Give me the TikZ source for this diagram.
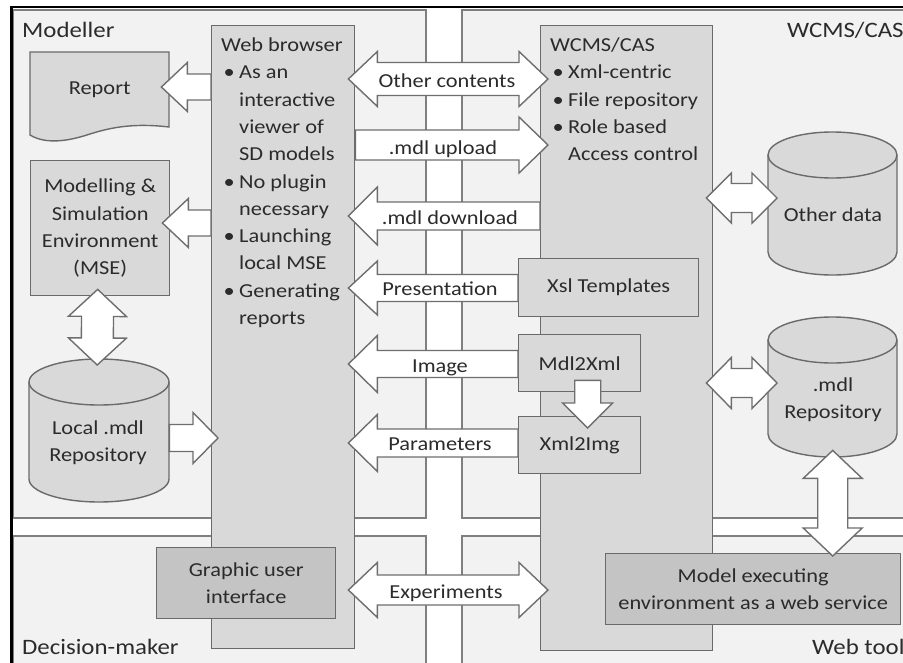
\documentclass[tikz,border=0pt]{standalone}
\usepackage{fontspec}
\setmainfont{Carlito}[FakeStretch=1.13]
\usetikzlibrary{calc}
\definecolor{panelfill}{HTML}{F2F2F2}
\definecolor{panelline}{HTML}{7F7F7F}
\definecolor{boxfill}{HTML}{D9D9D9}
\definecolor{darkfill}{HTML}{C4C4C4}
\definecolor{boxline}{HTML}{6A6A6A}
\definecolor{arrowline}{HTML}{6E6E6E}
\definecolor{txt}{HTML}{2B2B2B}
\newcommand\bul{\makebox[18pt][l]{\hspace{2.5pt}\textbullet}}
\newcommand\ind{\hspace*{18pt}}
% single block arrow: tail, tip, shaft half, head half, head length
\newcommand\sarrow[5]{%
  \coordinate (hb) at ($(#2)!#5!(#1)$);
  \draw[blockarrow] ($(#1)!#3!90:(#2)$) -- ($(hb)!#3!-90:(#1)$) -- ($(hb)!#4!-90:(#1)$) -- (#2)
    -- ($(hb)!#4!90:(#1)$) -- ($(hb)!#3!90:(#1)$) -- ($(#1)!#3!-90:(#2)$) -- cycle;}
% double block arrow: tip A, tip B, shaft half, head half, head length
\newcommand\darrow[5]{%
  \coordinate (ha) at ($(#1)!#5!(#2)$);
  \coordinate (hz) at ($(#2)!#5!(#1)$);
  \draw[blockarrow] (#1) -- ($(ha)!#4!90:(#2)$) -- ($(ha)!#3!90:(#2)$) -- ($(hz)!#3!-90:(#1)$)
    -- ($(hz)!#4!-90:(#1)$) -- (#2) -- ($(hz)!#4!90:(#1)$) -- ($(hz)!#3!90:(#1)$)
    -- ($(ha)!#3!-90:(#2)$) -- ($(ha)!#4!-90:(#2)$) -- cycle;}
% cylinder body: L T R B rx ry
\newcommand\cylbody[6]{%
  \filldraw[cylstyle] (#1,#2+#6) -- (#1,#4-#6) arc[start angle=180, end angle=360, x radius=#5pt, y radius=#6pt]
    -- (#3,#2+#6) arc[start angle=0, end angle=180, x radius=#5pt, y radius=#6pt] -- cycle;
  \draw[cylstyle, fill=none] (#1,#2+#6) arc[start angle=180, end angle=360, x radius=#5pt, y radius=#6pt];}
\begin{document}
\begin{tikzpicture}[x=1pt,y=-1pt,
  every node/.style={text=txt, font=\fontsize{19.8}{27.3}\selectfont},
  panel/.style={draw=panelline, fill=panelfill, line width=1.4pt},
  boxnode/.style={draw=boxline, fill=boxfill, line width=1.4pt, rectangle, inner sep=0pt, anchor=north west, align=center},
  darkbox/.style={boxnode, fill=darkfill},
  cylstyle/.style={draw=boxline, fill=boxfill, line width=1.4pt},
  blockarrow/.style={draw=arrowline, fill=white, line width=1.4pt, line join=miter},
  plain/.style={inner sep=0pt, align=center},
  lbl/.style={inner sep=0pt, anchor=base west, font=\fontsize{22}{26}\selectfont},
  albl/.style={inner sep=0pt, anchor=base},
]
\useasboundingbox (0,0) rectangle (903,662);
\fill[white] (0,0) rectangle (903,662);
\clip (0,0) rectangle (903,662);
% panels
\draw[panel] (13,10) rectangle (426,518);
\draw[panel] (13,536) rectangle (426,690);
\draw[panel] (462,10) rectangle (920,518);
\draw[panel] (462,536) rectangle (920,690);
\draw[line width=2.5pt] (11.5,690) -- (11.5,7) -- (920,7);
\node[lbl] (modeller) at (22,37.3) {Modeller};
\node[lbl] (wcmslbl) at (787,37.3) {WCMS/CAS};
\node[lbl] (decision) at (22,654) {Decision-maker};
\node[lbl] (webtool) at (812,654) {Web tool};
% main columns
\node[boxnode, minimum width=143pt, minimum height=623pt] (web) at (211,25) {};
\node[boxnode, minimum width=172pt, minimum height=625pt] (wcms) at (540,25) {};
\node[inner sep=0pt, anchor=base west] (webtext) at (221,51.5) {\begin{tabular}[t]{@{}l@{}}Web browser\\
 \bul As an\\ \ind interactive\\ \ind viewer of\\ \ind SD models\\
 \bul No plugin\\ \ind necessary\\ \bul Launching\\ \ind local MSE\\
 \bul Generating\\ \ind reports\end{tabular}};
\node[inner sep=0pt, anchor=base west] (wcmstext) at (550,51.5) {\begin{tabular}[t]{@{}l@{}}WCMS/CAS\\
 \bul Xml-centric\\ \bul File repository\\ \bul Role based\\ \ind Access control\end{tabular}};
% modeller side
\draw[cylstyle] (30,52) -- (169,52) -- (169,127) .. controls (135,123) and (112,127) .. (90,134)
  .. controls (66,142) and (45,144) .. (30,135) -- cycle;
\node[plain, minimum width=139pt, minimum height=75pt, anchor=north west] (report) at (30,52) {Report};
\node[boxnode, minimum width=139pt, minimum height=135pt] (mse) at (30,160) {Modelling \&\\Simulation\\Environment\\(MSE)};
\cylbody{29}{359}{169}{502}{70}{23}
\node[plain, minimum width=140pt, minimum height=143pt, anchor=north west] (localrepo) at (29,359) {};
\node[plain] (localrepotext) at (98,443) {Local .mdl\\Repository};
% WCMS side
\cylbody{768}{132}{897}{275}{64.5}{23}
\node[plain, minimum width=129pt, minimum height=143pt, anchor=north west] (otherdata) at (768,132) {};
\node[plain] (otherdatatext) at (833,215) {Other data};
\cylbody{768}{317}{897}{457}{64.5}{23}
\node[plain, minimum width=129pt, minimum height=140pt, anchor=north west] (mdlrepo) at (768,317) {};
\node[plain] (mdlrepotext) at (833,400) {.mdl\\Repository};
\node[boxnode, minimum width=180pt, minimum height=58pt] (xsl) at (518,258) {Xsl Templates};
\node[boxnode, minimum width=122pt, minimum height=57pt] (mdl2xml) at (518,334) {Mdl2Xml};
\node[boxnode, minimum width=122pt, minimum height=57pt] (xml2img) at (518,416) {Xml2Img};
\node[darkbox, minimum width=179pt, minimum height=71pt] (gui) at (156,547) {Graphic user\\interface};
\node[darkbox, minimum width=295pt, minimum height=71pt] (modelenv) at (605,553) {Model executing\\environment as a web service};
% arrows, modeller side
\coordinate (rA) at (web.west |- 0,87);
\coordinate (rB) at ($(report.east |- 0,87)+(-8,0)$);
\sarrow{rA}{rB}{13pt}{24.5pt}{26pt}
\coordinate (mA) at (web.west |- 0,223);
\coordinate (mB) at ($(mse.east |- 0,223)+(-8,0)$);
\sarrow{mA}{mB}{13pt}{24.5pt}{26pt}
\coordinate (vA) at ($(mse.south)+(-2.5,-7)$);
\coordinate (vB) at ($(localrepo.north)+(-2,6)$);
\darrow{vA}{vB}{16pt}{29pt}{27pt}
\coordinate (lA) at (localrepo.east |- 0,438);
\coordinate (lB) at ($(web.west |- 0,438)+(7,0)$);
\sarrow{lA}{lB}{13.5pt}{25.5pt}{25pt}
% arrows, middle
\coordinate (oA) at ($(web.east |- 0,79)+(-7,0)$);
\coordinate (oB) at ($(wcms.west |- 0,79)+(8,0)$);
\darrow{oA}{oB}{16.5pt}{27.5pt}{29pt}
\coordinate (uA) at (web.east |- 0,145);
\coordinate (uB) at ($(wcms.west |- 0,145)+(8,0)$);
\sarrow{uA}{uB}{15pt}{28pt}{29pt}
\coordinate (dA) at (wcms.west |- 0,216);
\coordinate (dB) at ($(web.east |- 0,216)+(-7,0)$);
\sarrow{dA}{dB}{14pt}{29pt}{29pt}
\coordinate (pA) at (xsl.west |- 0,288);
\coordinate (pB) at ($(web.east |- 0,288)+(-7,0)$);
\sarrow{pA}{pB}{13.5pt}{27pt}{29pt}
\coordinate (iA) at (mdl2xml.west |- 0,364);
\coordinate (iB) at ($(web.east |- 0,364)+(-7,0)$);
\sarrow{iA}{iB}{13.5pt}{28.5pt}{29pt}
\coordinate (qA) at (xml2img.west |- 0,443);
\coordinate (qB) at ($(web.east |- 0,443)+(-7,0)$);
\sarrow{qA}{qB}{14pt}{28.5pt}{29pt}
\coordinate (eA) at ($(web.east |- 0,590)+(-7,0)$);
\coordinate (eB) at ($(wcms.west |- 0,590)+(8,0)$);
\darrow{eA}{eB}{15pt}{27.5pt}{29pt}
% arrows, WCMS side
\coordinate (xA) at ($(mdl2xml.south)+(8,-12)$);
\coordinate (xB) at ($(xml2img.north)+(8,12)$);
\sarrow{xA}{xB}{13pt}{25pt}{25pt}
\coordinate (gA) at ($(wcms.east |- 0,198)+(-7,0)$);
\coordinate (gB) at ($(otherdata.west |- 0,198)+(9,0)$);
\darrow{gA}{gB}{14.5pt}{25pt}{25pt}
\coordinate (hA) at ($(wcms.east |- 0,383)+(-7,0)$);
\coordinate (hB) at ($(mdlrepo.west |- 0,383)+(9,0)$);
\darrow{hA}{hB}{14.5pt}{25.5pt}{25pt}
\coordinate (kA) at ($(mdlrepo.south)+(0,-7)$);
\coordinate (kB) at (mdlrepo.south |- 0,556);
\darrow{kA}{kB}{15pt}{29.5pt}{28pt}
% arrow labels
\node[albl] (lothers) at (447,87) {Other contents};
\node[albl] (lupload) at (443,154) {.mdl upload};
\node[albl] (ldownload) at (450,224) {.mdl download};
\node[albl] (lpresent) at (440,295) {Presentation};
\node[albl] (limage) at (440,372) {Image};
\node[albl] (lparam) at (440,450) {Parameters};
\node[albl] (lexper) at (446,598) {Experiments};
\end{tikzpicture}
\end{document}
